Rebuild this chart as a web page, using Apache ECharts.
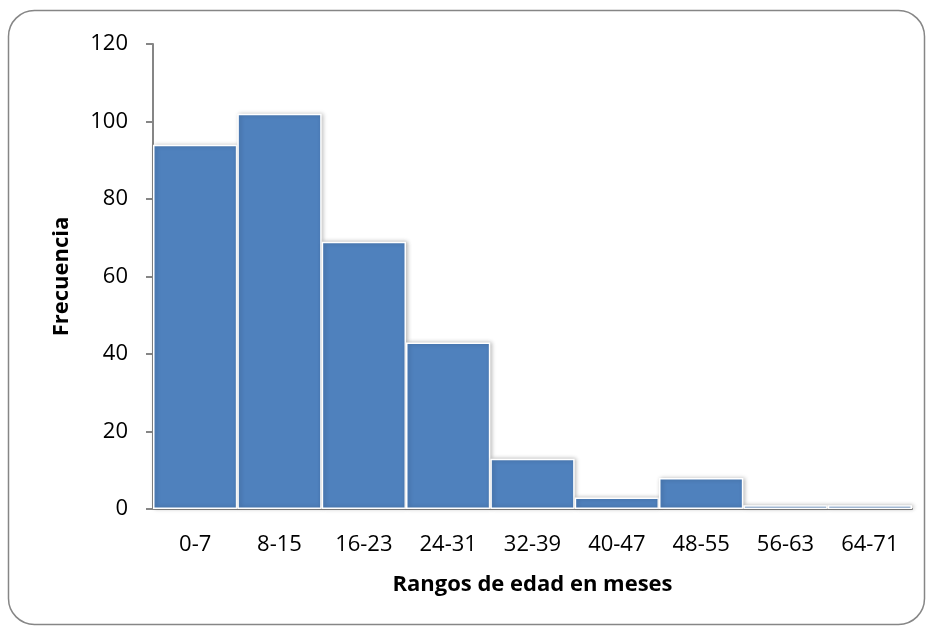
<!DOCTYPE html>
<html>
<head>
<meta charset="utf-8">
<script src="https://cdn.jsdelivr.net/npm/echarts@6/dist/echarts.min.js"></script>
<style>html,body{margin:0;padding:0;background:#fff}#c{width:933px;height:633px}</style>
</head>
<body>
<div id="c"></div>
<script>
const categories = ['0-7','8-15','16-23','24-31','32-39','40-47','48-55','56-63','64-71'];
const frecuencia = [94, 102, 69, 43, 13, 3, 8, 1, 1];
const yTicks = [0, 20, 40, 60, 80, 100, 120];

const chart = echarts.init(document.getElementById('c'), null, {renderer: 'canvas'});
const font = '"Open Sans", Lato, sans-serif';
chart.setOption({
  animation: false,
  backgroundColor: '#fff',
  graphic: [{
    type: 'rect',
    shape: {x: 8.5, y: 10.5, width: 916, height: 614, r: 26},
    style: {fill: 'none', stroke: '#868686', lineWidth: 1.5},
    silent: true, z: -1
  }],
  grid: {left: 153, right: 21, top: 44, bottom: 124},
  xAxis: {
    type: 'category',
    data: categories,
    name: 'Rangos de edad en meses',
    nameLocation: 'middle',
    nameGap: 65,
    nameTextStyle: {fontFamily: font, fontSize: 22, fontWeight: 'bold', color: '#000'},
    axisLine: {lineStyle: {color: '#868686', width: 2}},
    axisTick: {show: false},
    axisLabel: {fontFamily: font, fontSize: 22, color: '#000', margin: 25}
  },
  yAxis: {
    type: 'value',
    min: yTicks[0], max: yTicks[yTicks.length - 1], interval: 20,
    name: 'Frecuencia',
    nameLocation: 'middle',
    nameGap: 80,
    nameRotate: 90,
    nameTextStyle: {fontFamily: font, fontSize: 22, fontWeight: 'bold', color: '#000'},
    axisLine: {show: true, lineStyle: {color: '#868686', width: 2}},
    axisTick: {show: true, length: 7, lineStyle: {color: '#868686', width: 2}},
    axisLabel: {fontFamily: font, fontSize: 22, color: '#000', margin: 25},
    splitLine: {show: false}
  },
  series: [{
    type: 'bar',
    data: frecuencia,
    barCategoryGap: '0%',
    itemStyle: {
      color: '#4F81BD',
      borderColor: '#fff',
      borderWidth: 1.5,
      shadowBlur: 4,
      shadowColor: 'rgba(0,0,0,0.25)',
      shadowOffsetX: 1.5,
      shadowOffsetY: 0
    }
  }]
});
</script>
</body>
</html>
